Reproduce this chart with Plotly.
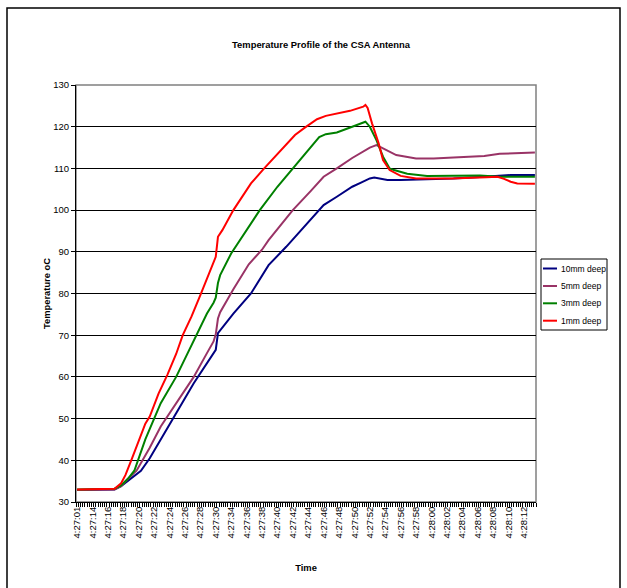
import plotly.graph_objects as go

# Category labels shown on the time axis (one label every 7 samples)
time_labels = ["4:27:01", "4:27:14", "4:27:16", "4:27:18", "4:27:20", "4:27:22",
               "4:27:24", "4:27:26", "4:27:28", "4:27:30", "4:27:34", "4:27:36",
               "4:27:38", "4:27:40", "4:27:42", "4:27:44", "4:27:46", "4:27:48",
               "4:27:50", "4:27:52", "4:27:54", "4:27:56", "4:27:58", "4:28:00",
               "4:28:02", "4:28:04", "4:28:06", "4:28:08", "4:28:10", "4:28:12"]
n_samples = 209
label_step = 7

# sample index / temperature readings per sensor
idx_10mm = [0, 17, 20, 24, 29, 33, 38, 45, 53, 60, 62, 63, 64, 71, 79, 87, 95, 103, 112,
            118, 125, 129, 133, 135, 141, 147, 162, 171, 185, 197, 208]
t_10mm = [32.9, 33.0, 33.8, 35.5, 37.5, 40.5, 44.9, 51.3, 58.5, 64.1, 65.7, 66.5, 70.5,
          75.2, 80.0, 86.8, 91.2, 96.0, 101.2, 103.2, 105.6, 106.6, 107.6, 107.8, 107.2,
          107.2, 107.4, 107.6, 108.0, 108.4, 108.4]

idx_5mm = [0, 17, 20, 23, 27, 33, 38, 45, 53, 59, 62, 63, 64, 65, 71, 78, 84, 87, 98,
           106, 112, 118, 125, 133, 136, 139, 145, 154, 162, 171, 185, 192, 208]
t_5mm = [32.9, 33.0, 33.8, 35.5, 37.5, 43.0, 48.1, 53.7, 60.0, 65.7, 68.5, 70.2, 74.0,
         75.5, 81.0, 87.0, 90.5, 92.8, 100.0, 104.5, 108.0, 110.0, 112.5, 115.0, 115.6,
         114.8, 113.2, 112.4, 112.4, 112.6, 113.0, 113.5, 113.8]

idx_3mm = [0, 17, 20, 23, 26, 31, 35, 38, 45, 50, 53, 56, 59, 62, 63, 64, 65, 70, 77,
           83, 91, 98, 106, 110, 113, 118, 125, 130, 131, 133, 136, 139, 142, 144, 150,
           159, 169, 183, 192, 208]
t_3mm = [33.0, 33.2, 34.0, 35.5, 37.5, 45.0, 50.0, 53.7, 60.0, 65.5, 68.8, 72.0, 75.2,
         77.8, 79.0, 82.5, 84.4, 89.6, 95.2, 100.0, 105.6, 110.0, 114.8, 117.5, 118.2,
         118.6, 120.0, 121.0, 121.2, 120.0, 116.8, 112.8, 110.0, 109.6, 108.7, 108.2,
         108.3, 108.3, 108.0, 108.0]

idx_1mm = [0, 10, 17, 20, 22, 25, 28, 31, 33, 37, 41, 45, 48, 52, 56, 59, 62, 63, 64,
           66, 71, 74, 79, 85, 90, 94, 99, 103, 109, 113, 118, 124, 130, 131, 132, 134,
           137, 139, 142, 147, 154, 170, 186, 191, 194, 197, 200, 208]
t_1mm = [33.0, 33.1, 33.2, 34.5, 36.5, 40.5, 44.9, 48.8, 50.5, 56.0, 60.5, 65.5, 70.0,
         74.5, 79.6, 83.5, 87.2, 88.8, 93.6, 95.2, 100.0, 102.4, 106.4, 110.0, 112.8,
         115.2, 118.0, 119.6, 121.8, 122.6, 123.2, 123.8, 124.8, 125.2, 124.5, 120.8,
         116.0, 112.0, 109.6, 108.2, 107.6, 107.6, 107.9, 108.0, 107.5, 106.8, 106.4,
         106.3]

series_names = ["10mm deep", "5mm deep", "3mm deep", "1mm deep"]
series_colors = ["#000080", "#993366", "#008000", "#FF0000"]
series_idx = [idx_10mm, idx_5mm, idx_3mm, idx_1mm]
series_vals = [t_10mm, t_5mm, t_3mm, t_1mm]

FONT = "Liberation Sans, Arial, sans-serif"

W, H = 627, 588
L, R, T, B = 76, 91, 85, 86
pw, ph = W - L - R, H - T - B


def px(x):
    return (x - L) / pw


def py(y):
    return (H - B - y) / ph


fig = go.Figure()
for name, xs, ys, col in zip(series_names, series_idx, series_vals, series_colors):
    fig.add_trace(go.Scatter(x=xs, y=ys, mode="lines", name=name, showlegend=False,
                             line=dict(color=col, width=2)))

shapes = [
    # plot-area frame (gray, Excel style)
    dict(type="rect", xref="paper", yref="paper", x0=0, x1=1, y0=0, y1=1,
         line=dict(color="#808080", width=1.5), fillcolor="rgba(0,0,0,0)",
         layer="below"),
    # outer chart frame
    dict(type="rect", xref="paper", yref="paper",
         x0=px(7), x1=px(620), y0=py(600), y1=py(8),
         line=dict(color="black", width=1.5), fillcolor="rgba(0,0,0,0)"),
    # legend box
    dict(type="rect", xref="paper", yref="paper",
         x0=px(541), x1=px(607), y0=py(330), y1=py(259),
         line=dict(color="black", width=1), fillcolor="white"),
]
annotations = []
row_y = [268.5, 286.0, 303.3, 320.7]
for name, col, ry in zip(series_names, series_colors, row_y):
    shapes.append(dict(type="line", xref="paper", yref="paper",
                       x0=px(543), x1=px(557), y0=py(ry), y1=py(ry),
                       line=dict(color=col, width=2)))
    annotations.append(dict(text=name, xref="paper", yref="paper",
                            x=px(559), y=py(ry), xanchor="left", yanchor="middle",
                            showarrow=False, font=dict(size=8.5, family=FONT,
                                                       color="black")))

tickvals = [i * label_step for i in range(len(time_labels))]

fig.update_layout(
    width=W, height=H,
    margin=dict(l=L, r=R, t=T, b=B, pad=0),
    paper_bgcolor="white", plot_bgcolor="white",
    font=dict(family=FONT, size=9, color="black"),
    title=dict(text="<b>Temperature Profile of the CSA Antenna</b>",
               x=px(321), xref="paper", xanchor="center",
               y=1 - 45 / H, yanchor="middle",
               font=dict(size=9.4, family=FONT, color="black")),
    showlegend=False,
    xaxis=dict(range=[-0.5, n_samples - 0.5], tickmode="array",
               tickvals=tickvals, ticktext=time_labels, tickangle=-90,
               ticks="", showgrid=False, zeroline=False,
               showline=True, linecolor="black", linewidth=1,
               tickfont=dict(size=9.5, family=FONT),
               minor=dict(ticks="outside", tick0=0.5, dtick=1, ticklen=4,
                          tickcolor="black", tickwidth=1, showgrid=False),
               title=dict(text="<b>Time</b>", font=dict(size=9.4, family=FONT),
                          standoff=26)),
    yaxis=dict(range=[30, 130], tickmode="linear", tick0=30, dtick=10,
               ticks="outside", ticklen=4, tickcolor="black",
               showgrid=True, gridcolor="black", gridwidth=1,
               zeroline=False, showline=True, linecolor="black", linewidth=1,
               tickfont=dict(size=9.5, family=FONT),
               title=dict(text="<b>Temperature oC</b>",
                          font=dict(size=9.4, family=FONT), standoff=0)),
    shapes=shapes,
    annotations=annotations,
)

fig.write_html("out.html",
               config={"displayModeBar": False},
               post_script="document.body.style.margin='0';"
                           "document.body.style.overflow='hidden';")
